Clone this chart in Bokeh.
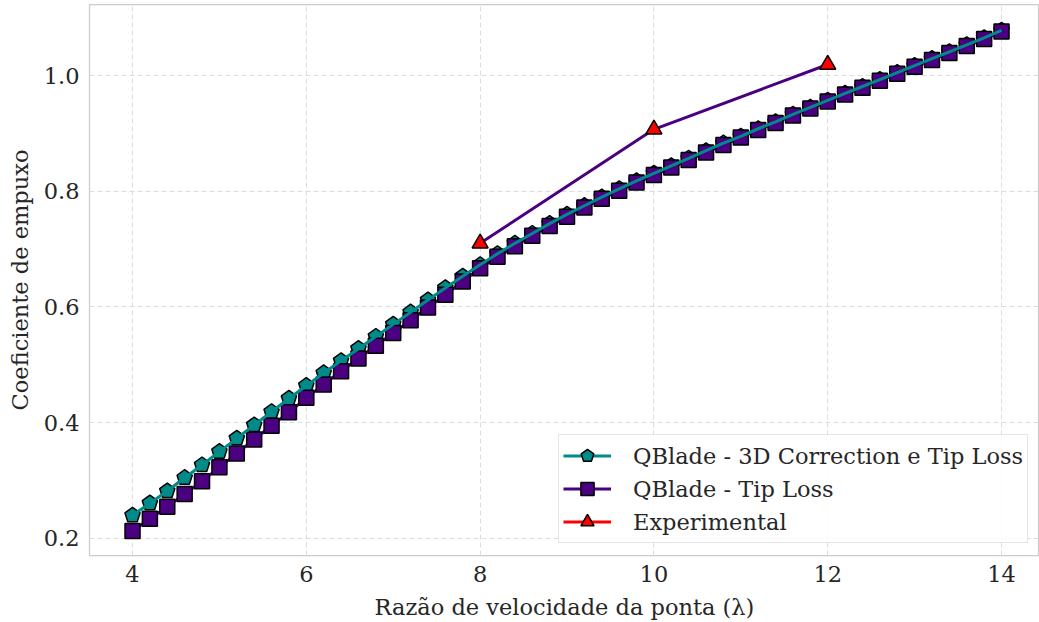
from bokeh.plotting import figure
from bokeh.models import Range1d, FixedTicker, Legend, LegendItem, ColumnDataSource
from bokeh.embed import file_html
from bokeh.resources import INLINE

# ---------------- data ----------------
tsr = [4.0, 4.2, 4.4, 4.6, 4.8, 5.0, 5.2, 5.4, 5.6, 5.8,
       6.0, 6.2, 6.4, 6.6, 6.8, 7.0, 7.2, 7.4, 7.6, 7.8,
       8.0, 8.2, 8.4, 8.6, 8.8, 9.0, 9.2, 9.4, 9.6, 9.8,
       10.0, 10.2, 10.4, 10.6, 10.8, 11.0, 11.2, 11.4, 11.6, 11.8,
       12.0, 12.2, 12.4, 12.6, 12.8, 13.0, 13.2, 13.4, 13.6, 13.8, 14.0]

ct_3d_tiploss = [0.240, 0.261, 0.282, 0.305, 0.327, 0.350, 0.373, 0.396, 0.419, 0.442,
                 0.464, 0.486, 0.507, 0.528, 0.549, 0.570, 0.591, 0.612, 0.633, 0.653,
                 0.673, 0.692, 0.710, 0.727, 0.744, 0.760, 0.775, 0.790, 0.804, 0.818,
                 0.831, 0.844, 0.857, 0.870, 0.883, 0.895, 0.908, 0.920, 0.933, 0.945,
                 0.957, 0.969, 0.981, 0.993, 1.005, 1.017, 1.029, 1.041, 1.053, 1.065, 1.078]

ct_tiploss = [0.213, 0.234, 0.255, 0.277, 0.299, 0.323, 0.347, 0.371, 0.395, 0.418,
              0.443, 0.466, 0.489, 0.511, 0.533, 0.555, 0.577, 0.599, 0.621, 0.644,
              0.667, 0.687, 0.705, 0.723, 0.740, 0.756, 0.772, 0.787, 0.801, 0.815,
              0.828, 0.841, 0.854, 0.867, 0.880, 0.893, 0.906, 0.918, 0.931, 0.943,
              0.955, 0.967, 0.979, 0.991, 1.003, 1.015, 1.027, 1.039, 1.051, 1.063, 1.076]

tsr_exp = [8.0, 10.0, 12.0]
ct_exp = [0.710, 0.907, 1.019]

x_ticks = [4, 6, 8, 10, 12, 14]
y_ticks = [0.2, 0.4, 0.6, 0.8, 1.0]

labels = ["QBlade - 3D Correction e Tip Loss", "QBlade - Tip Loss", "Experimental"]
x_label = "Razão de velocidade da ponta (λ)"
y_label = "Coeficiente de empuxo"

TEAL = "#008B8B"
INDIGO = "#4B0082"
RED = "#FF0000"
FONT = "DejaVu Serif"
TXT = "#262626"
FS = "22.5px"

# ---------------- figure ----------------
p = figure(width=1039, height=622, output_backend="svg", toolbar_location=None,
           x_range=Range1d(3.505, 14.437), y_range=Range1d(0.1706, 1.1227),
           min_border_left=89, min_border_right=0, min_border_top=4, min_border_bottom=67)
p.background_fill_color = "white"
p.border_fill_color = "white"
p.outline_line_color = "#cccccc"
p.outline_line_width = 1.25

for g in (p.xgrid, p.ygrid):
    g.grid_line_color = "#dddddd"
    g.grid_line_dash = "5 3"
    g.grid_line_width = 1

p.xaxis.ticker = FixedTicker(ticks=x_ticks)
p.yaxis.ticker = FixedTicker(ticks=y_ticks)
p.yaxis.major_label_overrides = {v: f"{v:.1f}" for v in y_ticks}
p.xaxis.major_label_overrides = {v: f"{v:d}" for v in x_ticks}
for ax in (p.xaxis, p.yaxis):
    ax.axis_line_color = None
    ax.major_tick_line_color = None
    ax.minor_tick_line_color = None
    ax.major_tick_out = 0
    ax.major_label_text_font = FONT
    ax.major_label_text_font_size = FS
    ax.major_label_text_color = TXT
    ax.axis_label_text_font = FONT
    ax.axis_label_text_font_size = FS
    ax.axis_label_text_font_style = "normal"
    ax.axis_label_text_color = TXT
p.xaxis.axis_label = x_label
p.yaxis.axis_label = y_label
p.yaxis.major_label_standoff = 10
p.yaxis.axis_label_standoff = 8
p.xaxis.major_label_standoff = 10
p.xaxis.axis_label_standoff = 9

src3d = ColumnDataSource(dict(x=tsr, y=ct_3d_tiploss))
srctl = ColumnDataSource(dict(x=tsr, y=ct_tiploss))
srcex = ColumnDataSource(dict(x=tsr_exp, y=ct_exp))

# teal pentagon markers (drawn first, underneath)
try:
    pent = p.ngon(x="x", y="y", radius=8, radius_units="screen", n=5, source=src3d,
                  fill_color=TEAL, line_color="black", line_width=1.5)
except Exception:
    pent = p.scatter(x="x", y="y", marker="hex", size=15, source=src3d,
                     fill_color=TEAL, line_color="black", line_width=1.5)

# purple series
ln_tl = p.line(x="x", y="y", source=srctl, line_color=INDIGO, line_width=3)
sq = p.scatter(x="x", y="y", marker="square", size=15, source=srctl,
               fill_color=INDIGO, line_color="black", line_width=1.5)

# teal line on top
ln_3d = p.line(x="x", y="y", source=src3d, line_color=TEAL, line_width=3)

# experimental
ln_ex = p.line(x="x", y="y", source=srcex, line_color=INDIGO, line_width=3)
tri = p.scatter(x="x", y="y", marker="triangle", size=16, source=srcex,
                fill_color=RED, line_color="black", line_width=1.5)
# legend-only proxy (red line), no visible data
ln_ex_proxy = p.line(x=[float("nan")], y=[float("nan")], line_color=RED, line_width=3)

legend = Legend(items=[
    LegendItem(label=labels[0], renderers=[ln_3d, pent]),
    LegendItem(label=labels[1], renderers=[ln_tl, sq]),
    LegendItem(label=labels[2], renderers=[ln_ex_proxy, tri]),
], location=(469, 12))
legend.label_text_font = FONT
legend.label_text_font_size = FS
legend.label_text_color = TXT
legend.glyph_width = 48
legend.glyph_height = 33
legend.label_height = 33
legend.label_standoff = 22
legend.spacing = 0
legend.padding = 4
legend.margin = 0
legend.border_line_color = "#cccccc"
legend.border_line_width = 1
legend.background_fill_color = "white"
legend.background_fill_alpha = 0.85
p.add_layout(legend, "center")

open("out.html", "w").write(file_html(p, INLINE))
